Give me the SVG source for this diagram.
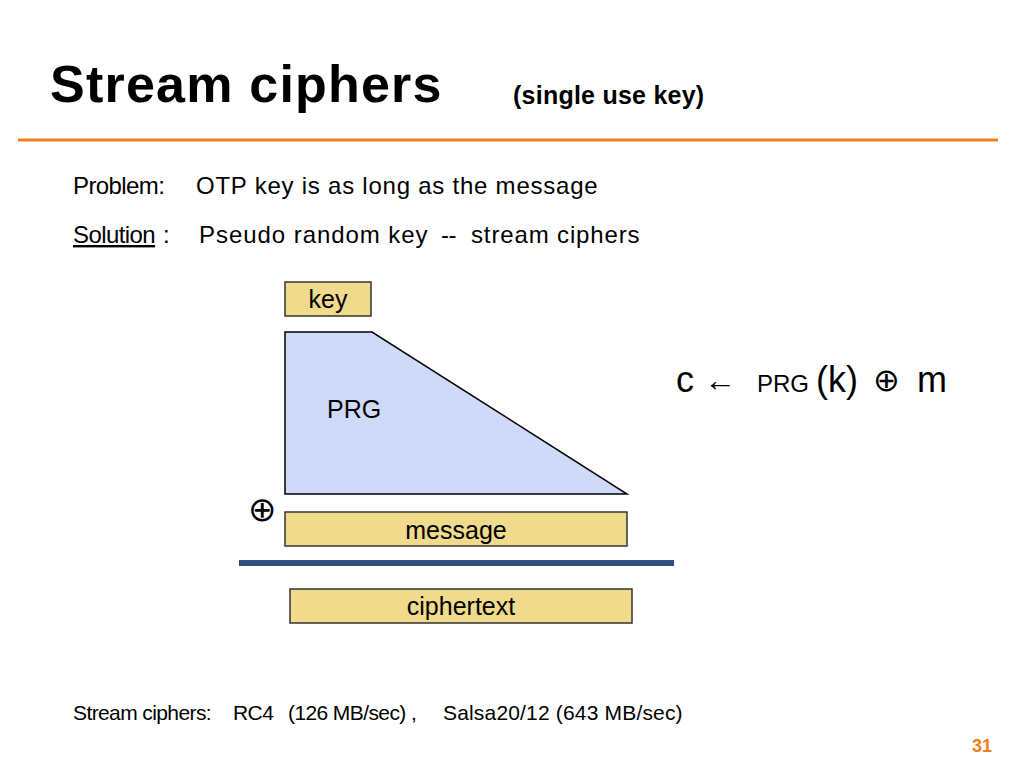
<svg xmlns="http://www.w3.org/2000/svg" width="1024" height="768" viewBox="0 0 1024 768">
<style>
text{font-family:"Liberation Sans",Arial,sans-serif;fill:#000}
.box{fill:#f0da8c;stroke:#333;stroke-width:1.5}
.lbl{font-size:25px;text-anchor:middle}
.body{font-size:24px;letter-spacing:-0.6px}
</style>
<rect width="1024" height="768" fill="#fff"/>
<text x="50" y="102" font-size="52" font-weight="bold" letter-spacing="-1.5" textLength="390">Stream ciphers</text>
<text x="513" y="104" font-size="25" font-weight="bold" letter-spacing="-1.2" textLength="190">(single use key)</text>
<line x1="18" y1="140" x2="998" y2="140" stroke="#f07f1e" stroke-width="3"/>
<text class="body" x="73" y="194">Problem:</text>
<text class="body" x="196" y="194" textLength="401">OTP key is as long as the message</text>
<text class="body" x="73" y="243" text-decoration="underline">Solution</text>
<text class="body" x="163" y="243">:</text>
<text class="body" x="199" y="243" textLength="228">Pseudo random key</text>
<text class="body" x="441" y="243">--</text>
<text class="body" x="471" y="243" textLength="168">stream ciphers</text>
<g id="key"><rect class="box" x="285" y="282" width="86" height="34"/><text class="lbl" x="328" y="308">key</text></g>
<g id="prg"><polygon points="285,332 372,332 627,494 285,494" fill="#cfdaf8" stroke="#000" stroke-width="1.5"/><text x="327" y="418" font-size="25">PRG</text></g>
<text x="262" y="521" font-size="34" text-anchor="middle" font-family="DejaVu Sans,sans-serif">⊕</text>
<g id="message"><rect class="box" x="285" y="512" width="342" height="34"/><text class="lbl" x="456" y="539">message</text></g>
<g id="connectors"><line x1="239" y1="563" x2="674" y2="563" stroke="#2f4f80" stroke-width="6"/></g>
<g id="ciphertext"><rect class="box" x="290" y="589" width="342" height="34"/><text class="lbl" x="461" y="615">ciphertext</text></g>
<text x="676" y="392" font-size="36">c</text>
<text x="704" y="391" font-size="32" font-family="DejaVu Serif,serif">←</text>
<text x="757" y="392" font-size="24">PRG</text>
<text x="816" y="392" font-size="36">(k)</text>
<text x="873" y="391" font-size="32" font-family="DejaVu Serif,serif">⊕</text>
<text x="917" y="392" font-size="36">m</text>
<text x="73" y="720" font-size="21" letter-spacing="-0.6">Stream ciphers:</text>
<text x="233" y="720" font-size="21" letter-spacing="-0.6">RC4</text>
<text x="288" y="720" font-size="21" letter-spacing="-0.6">(126 MB/sec) ,</text>
<text x="443" y="720" font-size="21" letter-spacing="-0.6" textLength="239">Salsa20/12 (643 MB/sec)</text>
<text x="972" y="752" font-size="18" font-weight="bold" style="fill:#f07f1e">31</text>
</svg>
